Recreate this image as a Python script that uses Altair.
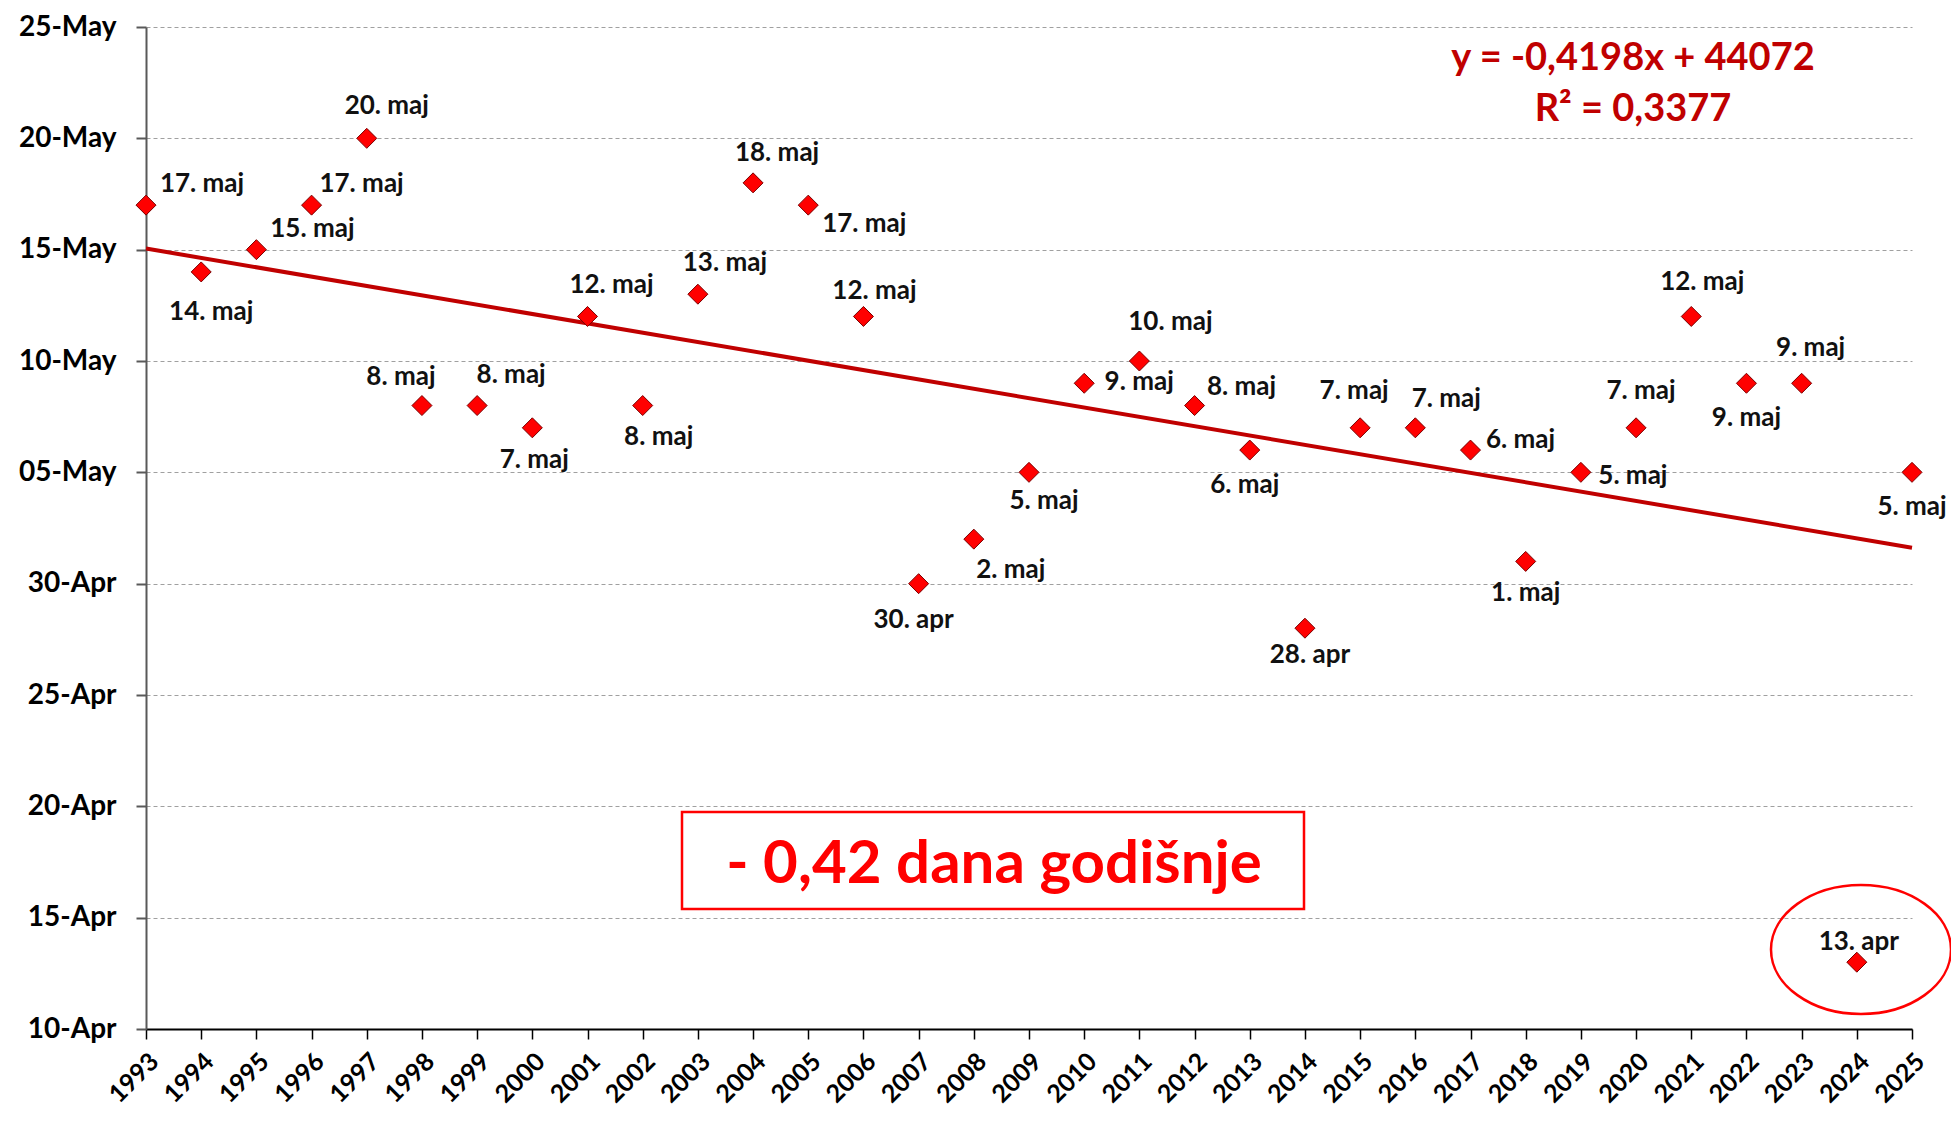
import altair as alt
import pandas as pd

# ---- data ----
years = list(range(1993, 2026))
dates = ["05-17", "05-14", "05-15", "05-17", "05-20", "05-08", "05-08", "05-07",
         "05-12", "05-08", "05-13", "05-18", "05-17", "05-12", "04-30", "05-02",
         "05-05", "05-09", "05-10", "05-08", "05-06", "04-28", "05-07", "05-07",
         "05-06", "05-01", "05-05", "05-07", "05-12", "05-09", "05-09", "04-13",
         "05-05"]
labels = ["17. maj", "14. maj", "15. maj", "17. maj", "20. maj", "8. maj", "8. maj", "7. maj",
          "12. maj", "8. maj", "13. maj", "18. maj", "17. maj", "12. maj", "30. apr", "2. maj",
          "5. maj", "9. maj", "10. maj", "8. maj", "6. maj", "28. apr", "7. maj", "7. maj",
          "6. maj", "1. maj", "5. maj", "7. maj", "12. maj", "9. maj", "9. maj", "13. apr",
          "5. maj"]
tick_dates = ["04-10", "04-15", "04-20", "04-25", "04-30",
              "05-05", "05-10", "05-15", "05-20", "05-25"]
equation_lines = ["y = -0,4198x + 44072", "R² = 0,3377"]
box_text = "- 0,42 dana godišnje"

# label nudges (pixels), style only
label_dx = [56, 10, 56, 50, 20, -21, 34, 2, 24, 16, 27, 24, 56, 11, -5, 37,
            15, 55, 31, 47, -5, 5, -6, 31, 50, 0, 52, 5, 11, 0, 9, 2, 0]
label_dy = [-21, 40, -21, -21, -32, -29, -31, 32, -31, 31, -31, -30, 19, -25, 36, 31,
            29, -1, -39, -19, 35, 27, -37, -29, -10, 32, 4, -37, -34, 35, -35, -20, 35]


def ms(md):
    return int(pd.Timestamp(f"2018-{md}", tz="UTC").timestamp() * 1000)


df = pd.DataFrame({"year": years, "t": [ms(d) for d in dates], "label": labels})
tick_ms = [ms(d) for d in tick_dates]

FONT = "Lato"

x_enc = alt.X(
    "year:Q",
    title=None,
    scale=alt.Scale(domain=[years[0], years[-1]], nice=False, zero=False),
    axis=alt.Axis(
        values=years, format="d", labelAngle=315, labelAlign="right", labelBaseline="middle",
        labelFont=FONT, labelFontSize=25, labelFontWeight="bold", labelColor="black",
        labelPadding=18, labelOffset=8, labelOverlap=False, labelFlush=False,
        domainColor="black", domainWidth=2, tickColor="black", tickWidth=1.5, tickSize=10,
        grid=False,
    ),
)
y_enc = alt.Y(
    "t:Q",
    title=None,
    scale=alt.Scale(domain=[tick_ms[0], tick_ms[-1]], nice=False, zero=False),
    axis=alt.Axis(
        values=tick_ms, labelExpr="utcFormat(datum.value, '%d-%b')",
        labelFont=FONT, labelFontSize=28, labelFontWeight="bold", labelColor="black",
        labelPadding=20, labelOverlap=False, labelFlush=False,
        domainColor="#595959", domainWidth=2, tickColor="#595959", tickWidth=2, tickSize=10,
        grid=True, gridColor="#a0a0a0", gridDash=[4, 3], gridWidth=1,
    ),
)

base = alt.Chart(df)

trend = base.transform_regression("year", "t").mark_line(
    color="#c00000", strokeWidth=4
).encode(x=x_enc, y=y_enc)

points = base.mark_point(
    shape="diamond", filled=True, color="#ff0000", stroke="#7a0000",
    strokeWidth=1, size=400, opacity=1
).encode(x=x_enc, y=y_enc)

text_layers = []
for yr, dx, dy in zip(years, label_dx, label_dy):
    text_layers.append(
        base.transform_filter(alt.datum.year == yr).mark_text(
            dx=dx, dy=dy, font=FONT, fontSize=26, fontWeight="bold", color="#111111",
            align="center", baseline="middle"
        ).encode(x=x_enc, y=y_enc, text="label:N")
    )

one = pd.DataFrame({"k": [0]})
eq1 = alt.Chart(one).mark_text(
    font=FONT, fontSize=38, fontWeight="bold", color="#c00000", align="center", baseline="middle"
).encode(x=alt.value(1487), y=alt.value(32), text=alt.value(equation_lines[0]))
eq2 = alt.Chart(one).mark_text(
    font=FONT, fontSize=38, fontWeight="bold", color="#c00000", align="center", baseline="middle"
).encode(x=alt.value(1487), y=alt.value(83), text=alt.value(equation_lines[1]))

box = alt.Chart(one).mark_rect(
    fill="white", stroke="#ff0000", strokeWidth=2.5
).encode(x=alt.value(536), x2=alt.value(1158), y=alt.value(785), y2=alt.value(882))
box_lbl = alt.Chart(one).mark_text(
    font=FONT, fontSize=60, fontWeight="bold", color="#ff0000", align="center", baseline="middle"
).encode(x=alt.value(848), y=alt.value(838), text=alt.value(box_text))

ellipse = alt.Chart(one).mark_point(
    shape="M -1 0 A 1 0.717 0 1 0 1 0 A 1 0.717 0 1 0 -1 0 Z",
    filled=False, stroke="#ff0000", strokeWidth=2.5, size=180 * 180, opacity=1
).encode(x=alt.value(1715), y=alt.value(922.5))

chart = alt.layer(
    trend, points, *text_layers, eq1, eq2, box, box_lbl, ellipse
).properties(
    width=1766, height=1002,
    padding={"left": 138, "top": 19, "right": 39, "bottom": 80},
    autosize=alt.AutoSizeParams(type="none"),
    background="white",
).configure_view(stroke=None)

chart.save("out.html", embed_options={"renderer": "svg", "actions": False})
